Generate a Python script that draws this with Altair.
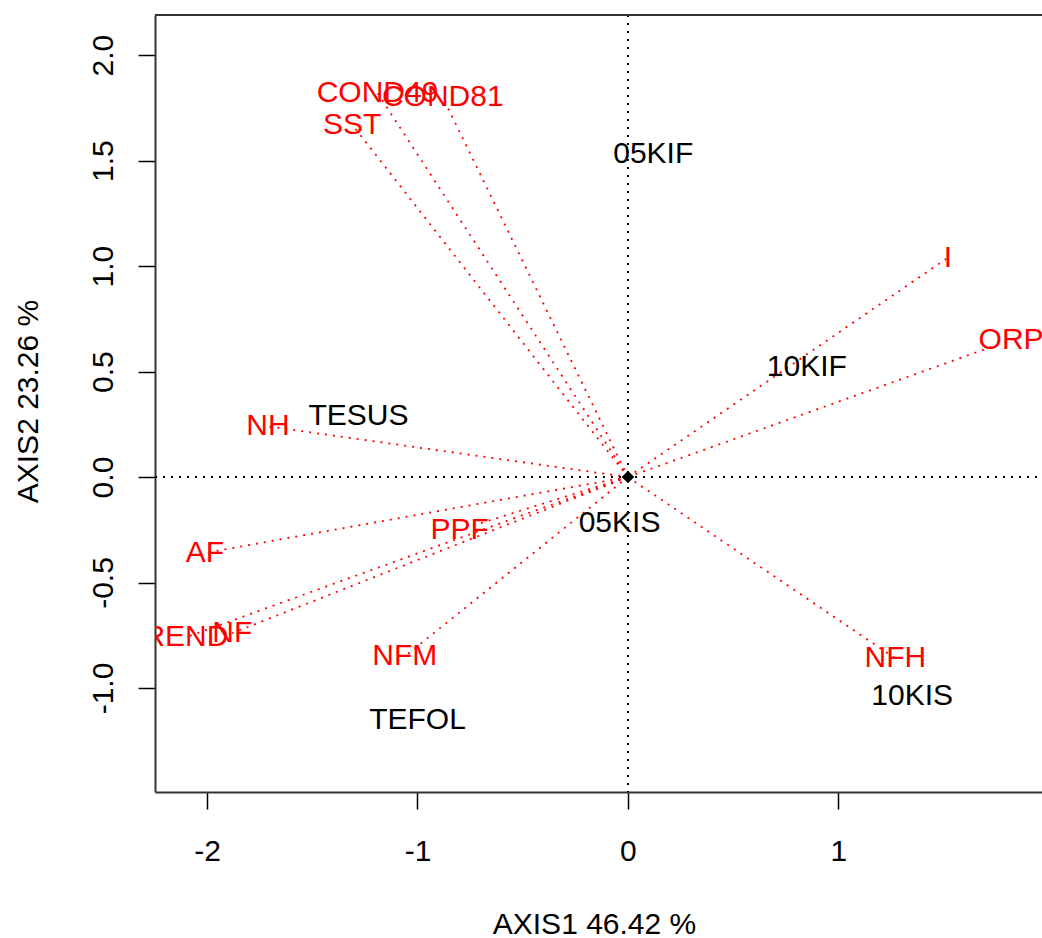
import altair as alt
import pandas as pd

FONT = "Liberation Sans"

# Variables (red, drawn as dotted rays from the origin)
var_names = ["COND49", "COND81", "SST", "I", "ORP", "NH", "AF", "PPF", "REND", "NF", "NFM", "NFH"]
var_x = [-1.19, -0.88, -1.31, 1.52, 1.82, -1.71, -2.01, -0.80, -2.10, -1.88, -1.06, 1.27]
var_y = [1.82, 1.80, 1.67, 1.04, 0.65, 0.24, -0.36, -0.25, -0.76, -0.74, -0.85, -0.86]

# Samples (black labels)
sam_names = ["05KIF", "10KIF", "TESUS", "05KIS", "10KIS", "TEFOL"]
sam_x = [0.12, 0.85, -1.28, -0.04, 1.35, -1.00]
sam_y = [1.53, 0.52, 0.29, -0.22, -1.04, -1.15]

x_ticks = [-2, -1, 0, 1]
y_ticks = [-1.0, -0.5, 0.0, 0.5, 1.0, 1.5, 2.0]
x_domain = [-2.247, 1.967]
y_domain = [-1.493, 2.19]

W, H = 887, 777

vars_df = pd.DataFrame({"name": var_names, "x": var_x, "y": var_y, "ox": 0.0, "oy": 0.0})
sam_df = pd.DataFrame({"name": sam_names, "x": sam_x, "y": sam_y})
zero_df = pd.DataFrame({"x": [0.0], "y": [0.0]})

xscale = alt.Scale(domain=x_domain, nice=False, zero=False)
yscale = alt.Scale(domain=y_domain, nice=False, zero=False)

fix_minus = "replace(datum.label, '\u2212', '-')"

xaxis = alt.Axis(
    values=x_ticks, title="AXIS1 46.42 %", grid=False, labelExpr=fix_minus,
    domainColor="#333333", domainWidth=2, tickColor="#000000", tickWidth=1.5, tickSize=17,
    labelFont=FONT, labelFontSize=30, labelColor="#000000", labelPadding=51,
    labelBaseline="alphabetic", labelFlush=False, labelOverlap=False,
    titleFont=FONT, titleFontSize=30, titleFontWeight="normal", titleColor="#000000",
    titleX=439, titleY=141, titleBaseline="alphabetic", titleAlign="center",
)
yaxis = alt.Axis(
    values=y_ticks, format=".1f", title="AXIS2 23.26 %", grid=False, labelExpr=fix_minus,
    domainColor="#333333", domainWidth=2, tickColor="#000000", tickWidth=1.5, tickSize=17,
    labelFont=FONT, labelFontSize=30, labelColor="#000000", labelPadding=26,
    labelAngle=270, labelAlign="center", labelBaseline="alphabetic",
    labelFlush=False, labelOverlap=False,
    titleFont=FONT, titleFontSize=30, titleFontWeight="normal", titleColor="#000000",
    titleAngle=270, titleX=-118, titleY=386, titleBaseline="alphabetic", titleAlign="center",
)


def X(f):
    return alt.X(f, type="quantitative", scale=xscale, axis=xaxis)


def Y(f):
    return alt.Y(f, type="quantitative", scale=yscale, axis=yaxis)


dash = [2, 6]

vline = alt.Chart(zero_df).mark_rule(color="#000000", strokeWidth=2, strokeDash=dash).encode(
    x=X("x"), y=alt.value(0), y2=alt.value(H)
)
hline = alt.Chart(zero_df).mark_rule(color="#000000", strokeWidth=2, strokeDash=dash).encode(
    y=Y("y"), x=alt.value(0), x2=alt.value(W)
)
top_border = alt.Chart(zero_df).mark_rule(color="#333333", strokeWidth=2).encode(
    x=alt.value(0), x2=alt.value(W), y=alt.value(0)
)

rays = alt.Chart(vars_df).mark_rule(color="#FF0000", strokeWidth=1.8, strokeDash=dash).encode(
    x=X("ox"), y=Y("oy"), x2=alt.X2("x"), y2=alt.Y2("y")
)

sam_text = alt.Chart(sam_df).mark_text(
    font=FONT, fontSize=30, color="#000000", align="center", baseline="middle", clip=True
).encode(x=X("x"), y=Y("y"), text="name:N")

var_text = alt.Chart(vars_df).mark_text(
    font=FONT, fontSize=30, color="#FF0000", align="center", baseline="middle", clip=True
).encode(x=X("x"), y=Y("y"), text="name:N")

origin = alt.Chart(zero_df).mark_point(
    shape="diamond", filled=True, color="#000000", size=160, opacity=1
).encode(x=X("x"), y=Y("y"))

chart = alt.layer(vline, hline, top_border, rays, sam_text, var_text, origin).properties(
    width=W, height=H,
    autosize=alt.AutoSizeParams(type="none"),
    padding={"left": 155, "top": 15, "right": 0, "bottom": 142},
    background="#FFFFFF",
).configure_view(strokeWidth=0)

chart.save("out.html", embed_options={"renderer": "svg", "actions": False})
